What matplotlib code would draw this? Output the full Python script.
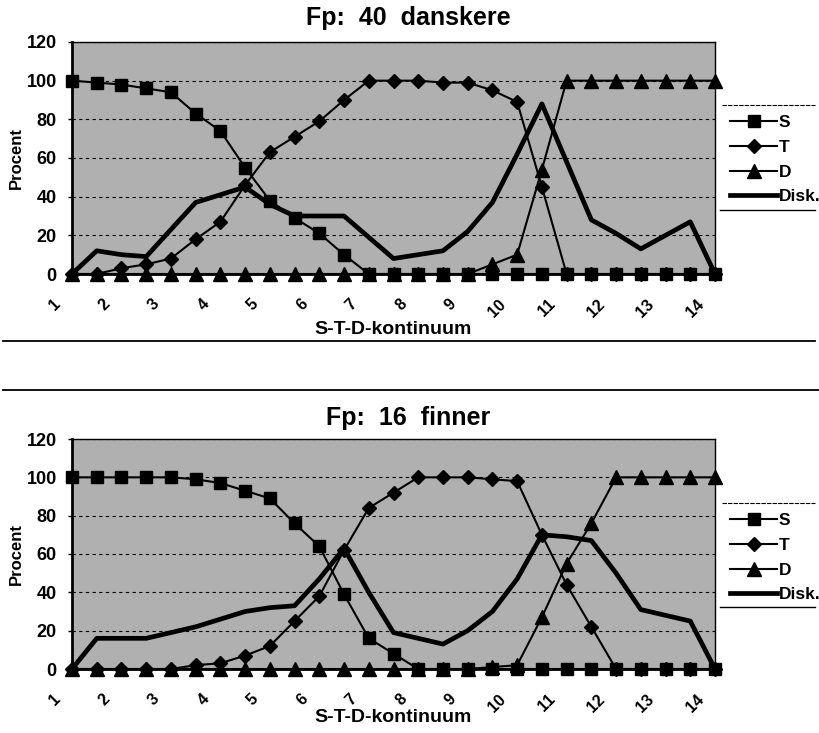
import numpy as np
import matplotlib
matplotlib.use("Agg")
import matplotlib.pyplot as plt
from matplotlib.lines import Line2D

plt.rcParams['font.family'] = ['Liberation Sans', 'DejaVu Sans']
plt.rcParams['font.weight'] = 'bold'

# Data (x positions along the S-T-D continuum, 27 steps)
X_STEPS = [1, 1.5, 2, 2.5, 3, 3.5, 4, 4.5, 5, 5.5, 6, 6.5, 7, 7.5, 8, 8.5,
           9, 9.5, 10, 10.5, 11, 11.5, 12, 12.5, 13, 13.5, 14]
TICK_POS = list(range(1, 15))
TICK_LABELS = [str(i) for i in TICK_POS]

S_DK = [100, 99, 98, 96, 94, 83, 74, 55, 38, 29, 21, 10, 0, 0, 0, 0,
        0, 0, 0, 0, 0, 0, 0, 0, 0, 0, 0]
T_DK = [0, 0, 3, 5, 8, 18, 27, 46, 63, 71, 79, 90, 100, 100, 100, 99,
        99, 95, 89, 45, 0, 0, 0, 0, 0, 0, 0]
D_DK = [0, 0, 0, 0, 0, 0, 0, 0, 0, 0, 0, 0, 0, 0, 0, 0,
        0, 5, 10, 54, 100, 100, 100, 100, 100, 100, 100]
DISK_DK = [0, 12, 10, 9, 23, 37, 41, 45, 36, 30, 30, 30, 19, 8, 10, 12,
           22, 37, 62, 88, 58, 28, 21, 13, 20, 27, 0]

S_FI = [100, 100, 100, 100, 100, 99, 97, 93, 89, 76, 64, 39, 16, 8, 0, 0,
        0, 0, 0, 0, 0, 0, 0, 0, 0, 0, 0]
T_FI = [0, 0, 0, 0, 0, 2, 3, 7, 12, 25, 38, 62, 84, 92, 100, 100,
        100, 99, 98, 70, 44, 22, 0, 0, 0, 0, 0]
D_FI = [0, 0, 0, 0, 0, 0, 0, 0, 0, 0, 0, 0, 0, 0, 0, 0,
        0, 1, 2, 27, 55, 76, 100, 100, 100, 100, 100]
DISK_FI = [0, 16, 16, 16, 19, 22, 26, 30, 32, 33, 47, 63, 40, 19, 16, 13,
           20, 30, 47, 70, 69, 67, 50, 31, 28, 25, 0]

PANELS = [
    ("Fp:  40  danskere", S_DK, T_DK, D_DK, DISK_DK),
    ("Fp:  16  finner", S_FI, T_FI, D_FI, DISK_FI),
]

W, H = 819, 733
fig = plt.figure(figsize=(W / 100, H / 100), dpi=100)


def px_box(left, top, right, bottom):
    return [left / W, 1 - bottom / H, (right - left) / W, (bottom - top) / H]


AX_BOXES = [px_box(72, 42, 715, 274), px_box(72, 439, 715, 669)]
TITLE_Y = [18, 418]
XLABEL_Y = [329, 718]
LEGEND_TOP = [105, 503]
LEGEND_BOTTOM = [210, 607]

for i, (title, s, t, d, disk) in enumerate(PANELS):
    ax = fig.add_axes(AX_BOXES[i])
    ax.set_facecolor('#b0b0b0')
    ax.plot(X_STEPS, disk, color='black', lw=3.4, label='Disk.', zorder=3,
            clip_on=False)
    ax.plot(X_STEPS, s, color='black', lw=1.5, marker='s', ms=8.5,
            label='S', zorder=4, clip_on=False)
    ax.plot(X_STEPS, t, color='black', lw=1.5, marker='D', ms=7.5,
            label='T', zorder=4, clip_on=False)
    ax.plot(X_STEPS, d, color='black', lw=1.5, marker='^', ms=9.5,
            label='D', zorder=4, clip_on=False)

    ax.set_xlim(1, 14)
    ax.set_ylim(0, 120)
    ax.set_yticks(range(0, 121, 20))
    # x tick labels drawn as rotated annotations, offset like the original
    ax.set_xticks(TICK_POS)
    ax.set_xticklabels([])
    ax.tick_params(axis='x', length=0)
    for pos, lab in zip(TICK_POS, TICK_LABELS):
        ax.annotate(lab, xy=(pos, 0), xycoords=('data', 'axes fraction'),
                    xytext=(-10, -20), textcoords='offset points',
                    rotation=45, ha='right', va='center',
                    rotation_mode='anchor', fontsize=11.5,
                    fontweight='bold')
    ax.tick_params(axis='y', labelsize=13, length=3, width=1, pad=8)
    ax.yaxis.grid(True, color='black', ls=(0, (3, 3)), lw=0.8)
    ax.set_axisbelow(True)
    for side in ['left', 'bottom']:
        ax.spines[side].set_linewidth(2)
    for side in ['top', 'right']:
        ax.spines[side].set_linewidth(1)
    ax.set_ylabel('Procent', fontsize=12, fontweight='bold')
    ax.yaxis.set_label_coords(-48 / 643, 0.5)

    fig.text(408 / W, 1 - TITLE_Y[i] / H, title, ha='center', va='center',
             fontsize=18, fontweight='bold')
    fig.text(393 / W, 1 - XLABEL_Y[i] / H, 'S-T-D-kontinuum', ha='center',
             va='center', fontsize=14, fontweight='bold')

    handles, labels = ax.get_legend_handles_labels()
    order = [1, 2, 3, 0]
    fig.legend([handles[k] for k in order], [labels[k] for k in order],
               loc='upper left',
               bbox_to_anchor=(718 / W, 1 - (LEGEND_TOP[i] - 2) / H),
               frameon=False, fontsize=12.5, handlelength=2.7,
               handletextpad=0.1, labelspacing=0.55, borderpad=0.2)
    fig.add_artist(Line2D([722 / W, 815 / W],
                          [1 - LEGEND_TOP[i] / H] * 2, color='black',
                          lw=0.8, ls=(0, (4, 1))))
    fig.add_artist(Line2D([720 / W, 815 / W],
                          [1 - LEGEND_BOTTOM[i] / H] * 2, color='black',
                          lw=1))

# separator lines between the two panels
fig.add_artist(Line2D([3 / W, 815 / W], [1 - 341 / H] * 2, color='black',
                      lw=1.3))
fig.add_artist(Line2D([3 / W, 819 / W], [1 - 390 / H] * 2, color='black',
                      lw=1.3))

fig.savefig('out.png', dpi=100)
